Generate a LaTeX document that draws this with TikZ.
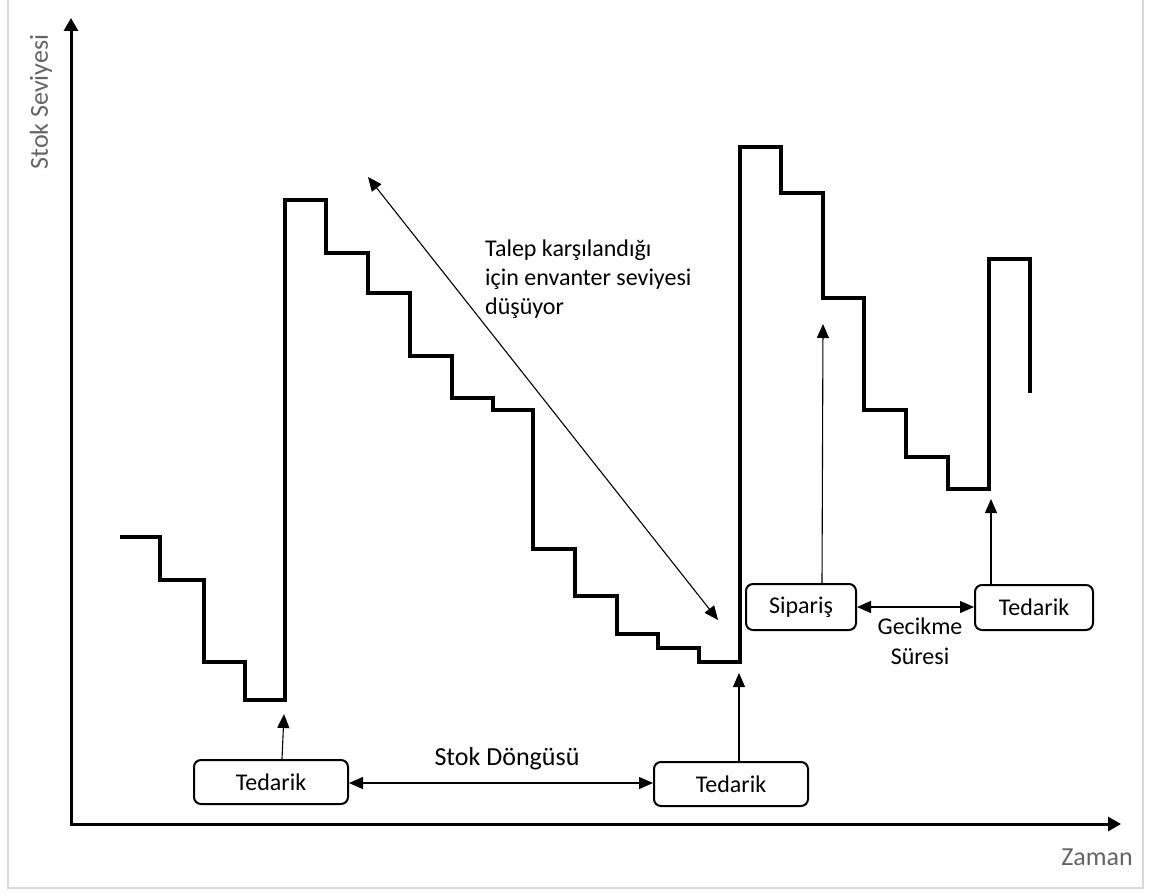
\documentclass[tikz,border=0pt]{standalone}
\usepackage{fontspec}
\setmainfont{Carlito}
\usetikzlibrary{arrows.meta}
\definecolor{framegray}{RGB}{217,217,217}
\definecolor{labelgray}{RGB}{100,100,100}
\tikzset{
  axisline/.style={line width=3pt, -{Triangle[length=13pt,width=14pt]}},
  stockline/.style={line width=4pt, line join=miter},
  conn/.style={line width=1.1pt, -{Triangle[length=14pt,width=12pt]}},
  dconn/.style={line width=1.1pt, {Triangle[length=14pt,width=12pt]}-{Triangle[length=14pt,width=12pt]}},
  boxnode/.style={draw, line width=2pt, rounded corners=7pt, inner sep=0pt, font=\fontsize{24}{29}\selectfont},
  lbl/.style={inner sep=0pt, font=\fontsize{24}{29}\selectfont},
  axislabel/.style={inner sep=0pt, text=labelgray, font=\fontsize{26}{31}\selectfont}
}
\begin{document}
\begin{tikzpicture}[x=1pt,y=-1pt]
\useasboundingbox (0,0) rectangle (1156,893);
% frame
\draw[framegray, line width=2pt] (8,0) -- (8,888) -- (1143,888) -- (1143,0);
% axes
\coordinate (origin) at (71,824);
\coordinate (ytip) at (71,18);
\coordinate (xtip) at (1121,824);
\draw[axisline] (71,825.5) -- (ytip);
\draw[axisline] (origin) -- (xtip);
\node[axislabel, rotate=90] (ylabel) at (41,102) {Stok Seviyesi};
\node[axislabel] (xlabel) at (1097,857) {Zaman};
% stock level
\draw[stockline] (120,537) -- (160,537) -- (160,580) -- (204,580) -- (204,662) -- (245,662)
  -- (245,700) -- (285,700) -- (285,200) -- (326,200) -- (326,253) -- (368,253)
  -- (368,293) -- (410,293) -- (410,356) -- (452,356) -- (452,398) -- (493,398)
  -- (493,410) -- (533,410) -- (533,549) -- (575,549) -- (575,596) -- (617,596)
  -- (617,634) -- (658,634) -- (658,648) -- (699,648) -- (699,662) -- (740,662)
  -- (740,147) -- (781,147) -- (781,193) -- (823,193) -- (823,298) -- (864,298)
  -- (864,410) -- (906,410) -- (906,457) -- (948,457) -- (948,489) -- (989,489)
  -- (989,259) -- (1030,259) -- (1030,393);
% boxes
\node[boxnode, minimum width=154pt, minimum height=44pt] (ted1) at (271,782) {Tedarik};
\node[boxnode, minimum width=154pt, minimum height=44pt] (ted2) at (731,784) {Tedarik};
\node[boxnode, minimum width=110pt, minimum height=46pt] (sip) at (801,607) {Sipariş};
\node[boxnode, minimum width=118pt, minimum height=45pt] (ted3) at (1034,607.5) {Tedarik};
% arrow targets
\coordinate (t1) at (284,714);
\coordinate (t2) at (739,673);
\coordinate (t3) at (823,324);
\coordinate (t4) at (991,499);
\coordinate (dA) at (368,177);
\coordinate (dB) at (718,620);
% connectors
\draw[conn] ([xshift=11pt]ted1.north) -- (t1);
\draw[conn] ([xshift=8pt]ted2.north) -- (t2);
\draw[conn] ([xshift=21pt]sip.north) -- (t3);
\draw[conn] ([xshift=-43pt]ted3.north) -- (t4);
\draw[dconn] ([yshift=-1pt]ted1.east) -- ([yshift=-1pt]ted1.east -| ted2.west);
\draw[dconn] (sip.east) -- (sip.east -| ted3.west);
\draw[dconn] (dA) -- (dB);
% labels
\node[lbl, font=\fontsize{26}{31}\selectfont] (cycle) at (507,759) {Stok Döngüsü};
\node[lbl, align=center, font=\fontsize{24}{30}\selectfont] (delay) at (920,641) {Gecikme\\Süresi};
\node[lbl, align=left, anchor=west] (demand) at (485,279) {Talep karşılandığı\\için envanter seviyesi\\düşüyor};
\end{tikzpicture}
\end{document}
